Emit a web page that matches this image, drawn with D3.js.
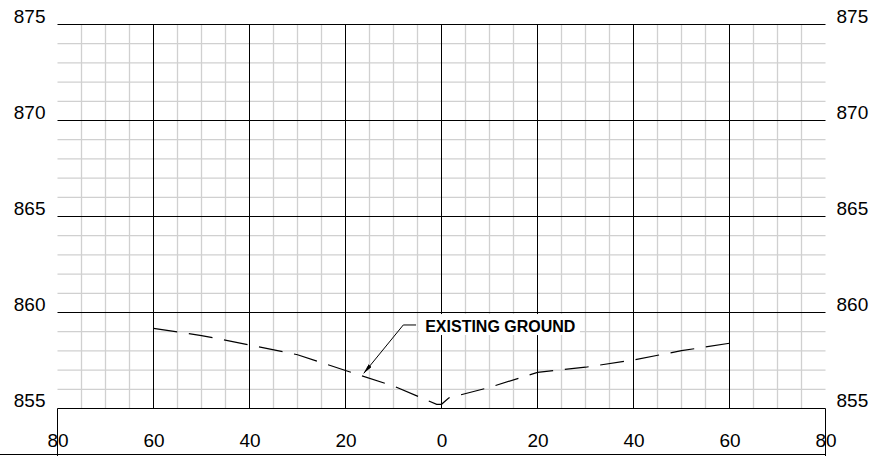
<!DOCTYPE html>
<html>
<head>
<meta charset="utf-8">
<script src="https://cdn.jsdelivr.net/npm/d3@7"></script>
<style>
  body { margin: 0; background: #fff; }
  svg { display: block; }
  .minor { stroke: #d0d0d0; stroke-width: 1.3; }
  .major { stroke: #000; stroke-width: 1; }
  .tick text, .callout { font-family: "Liberation Sans", Arial, Helvetica, sans-serif; fill: #000; }
  .tick text { font-size: 19px; }
</style>
</head>
<body>
<div id="chart"></div>
<script>
// station offsets (ft) and elevations
const xTicks = [-80, -60, -40, -20, 0, 20, 40, 60, 80];
const yTicks = [855, 860, 865, 870, 875];
const groundStation = [-60, -50, -40, -30, -20, -10, -1, 0, 1.5, 10, 20, 30, 40, 50, 60];
const groundElev = [859.17, 858.8, 858.31, 857.8, 856.98, 856.17, 855.22, 855.22, 855.55, 856.1, 856.88, 857.15, 857.53, 858.01, 858.4];
const calloutText = "EXISTING GROUND";

const width = 872, height = 456;
const margin = { top: 24.5, left: 57.5, right: 46.5, bottom: 47.5 };

const svg = d3.select("#chart").append("svg")
  .attr("width", width)
  .attr("height", height);

const x = d3.scaleLinear().domain([-80, 80]).range([margin.left, width - margin.right]);
const y = d3.scaleLinear().domain([855, 875]).range([height - margin.bottom, margin.top]);

// minor grid: every 5 ft horizontally, every 1 ft vertically
const minorX = d3.range(-80, 80.1, 5).filter(v => v % 20 !== 0);
const minorY = d3.range(855, 875.1, 1).filter(v => v % 5 !== 0);

svg.append("g").selectAll("line").data(minorX).join("line")
  .attr("class", "minor")
  .attr("x1", d => x(d)).attr("x2", d => x(d))
  .attr("y1", y(855)).attr("y2", y(875));
svg.append("g").selectAll("line").data(minorY).join("line")
  .attr("class", "minor")
  .attr("x1", x(-80)).attr("x2", x(80))
  .attr("y1", d => y(d)).attr("y2", d => y(d));

// major grid
svg.append("g").selectAll("line").data(xTicks).join("line")
  .attr("class", "major")
  .attr("x1", d => x(d)).attr("x2", d => x(d))
  .attr("y1", y(855)).attr("y2", d => Math.abs(d) === 80 ? height : y(875));
svg.append("g").selectAll("line").data(yTicks).join("line")
  .attr("class", "major")
  .attr("x1", x(-80)).attr("x2", x(80))
  .attr("y1", d => y(d)).attr("y2", d => y(d));

// bottom rule
svg.append("line").attr("class", "major")
  .attr("x1", 0).attr("x2", x(80))
  .attr("y1", height - 1.5).attr("y2", height - 1.5);

// axes (labels only)
const xAxis = svg.append("g")
  .attr("transform", `translate(0,${y(855)})`)
  .call(d3.axisBottom(x).tickValues(xTicks).tickSize(0).tickPadding(25).tickFormat(d => Math.abs(d)));
xAxis.select(".domain").remove();

const yLeft = svg.append("g")
  .attr("transform", `translate(${x(-80)},0)`)
  .call(d3.axisLeft(y).tickValues(yTicks).tickSize(0).tickPadding(12));
yLeft.select(".domain").remove();
yLeft.selectAll("text").attr("dy", "-0.08em");

const yRight = svg.append("g")
  .attr("transform", `translate(${x(80)},0)`)
  .call(d3.axisRight(y).tickValues(yTicks).tickSize(0).tickPadding(11));
yRight.select(".domain").remove();
yRight.selectAll("text").attr("dy", "-0.08em");

// existing ground profile
const line = d3.line()
  .x((d, i) => x(groundStation[i]))
  .y(d => y(d));

const ground = svg.append("path")
  .datum(groundElev)
  .attr("d", line)
  .attr("fill", "none")
  .attr("stroke", "#000")
  .attr("stroke-width", 1.2);

// fit the dash pattern so the line starts and ends on a dash
const dash = 24;
const len = ground.node().getTotalLength();
const n = Math.round((len - dash) / 35);
ground.attr("stroke-dasharray", `${dash},${(len - dash) / n - dash}`);

// callout
svg.append("defs").append("marker")
  .attr("id", "arrow")
  .attr("viewBox", "0 0 10 4")
  .attr("refX", 10).attr("refY", 2)
  .attr("markerWidth", 10).attr("markerHeight", 4)
  .attr("markerUnits", "userSpaceOnUse")
  .attr("orient", "auto")
  .append("path")
  .attr("d", "M0,0L10,2L0,4Z")
  .attr("fill", "#000");

const elbow = [x(-7.96), y(859.35)];
svg.append("rect")
  .attr("x", x(-4.7)).attr("y", y(859.92))
  .attr("width", 161).attr("height", 21)
  .attr("fill", "#fff");
svg.append("polyline")
  .attr("points", [[x(-5.3), elbow[1]], elbow, [x(-16.2), y(856.83)]].map(p => p.join(",")).join(" "))
  .attr("fill", "none")
  .attr("stroke", "#000")
  .attr("stroke-width", 1)
  .attr("marker-end", "url(#arrow)");
svg.append("text")
  .attr("class", "callout")
  .attr("x", x(-3.4)).attr("y", y(855) - 76.8)
  .attr("font-size", 16)
  .attr("font-weight", "bold")
  .text(calloutText);
</script>
</body>
</html>
